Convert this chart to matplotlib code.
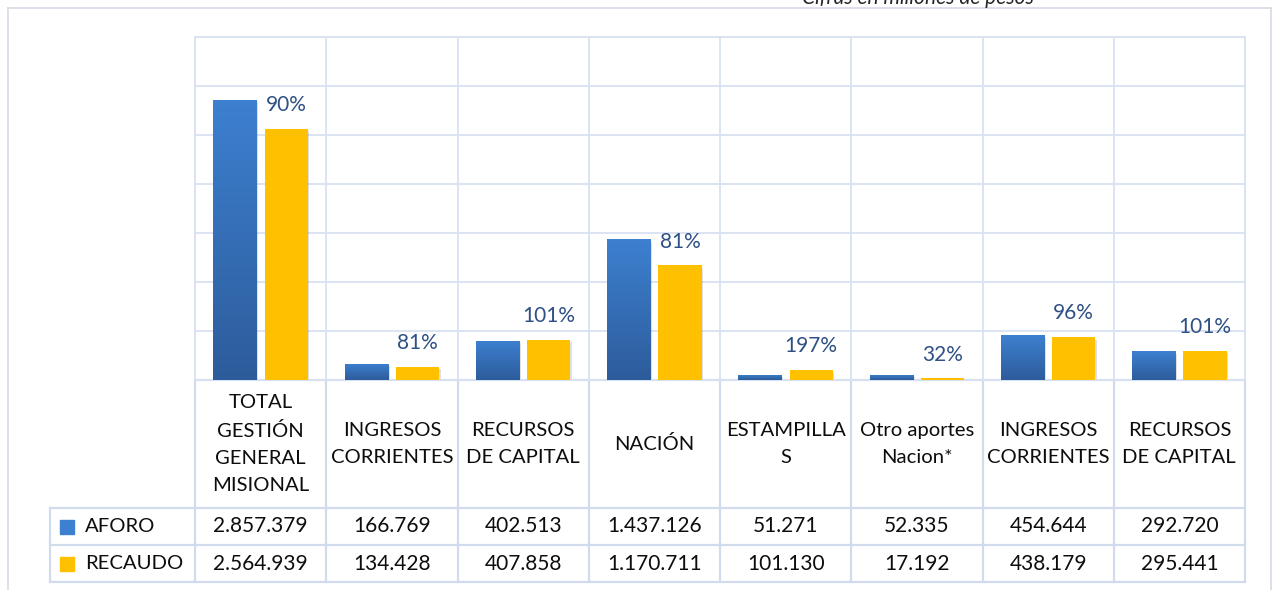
import numpy as np
import matplotlib
matplotlib.use("Agg")
import matplotlib.pyplot as plt
import matplotlib.transforms as mtransforms
from matplotlib.patches import Rectangle
from matplotlib.colors import LinearSegmentedColormap

# datos
categorias = ["TOTAL\nGESTIÓN\nGENERAL\nMISIONAL", "INGRESOS\nCORRIENTES", "RECURSOS\nDE CAPITAL",
              "NACIÓN", "ESTAMPILLA\nS", "Otro aportes\nNacion*", "INGRESOS\nCORRIENTES",
              "RECURSOS\nDE CAPITAL"]
aforo = [2857379, 166769, 402513, 1437126, 51271, 52335, 454644, 292720]
recaudo = [2564939, 134428, 407858, 1170711, 101130, 17192, 438179, 295441]
porcentajes = ["90%", "81%", "101%", "81%", "197%", "32%", "96%", "101%"]
series = ["AFORO", "RECAUDO"]
titulo = "Cifras en millones de pesos"

W, H = 1279, 590
FONT = "Lato"
FS = 14.6
grid_c = "#D9E2F3"
line_c = "#D0DBEE"
azul_top, azul_bot = "#3D80D0", "#2D5C9B"
amarillo = "#FFC000"

plt.rcParams["font.family"] = [FONT, "DejaVu Sans"]

def rect(x0, y0, x1, y1):
    return [x0 / W, 1 - y1 / H, (x1 - x0) / W, (y1 - y0) / H]

fig = plt.figure(figsize=(W / 100, H / 100), dpi=100)

# capa de fondo en pixeles
ov = fig.add_axes([0, 0, 1, 1], zorder=0)
ov.set_xlim(0, W)
ov.set_ylim(H, 0)
ov.axis("off")

ax = fig.add_axes(rect(195, 37, 1245, 380), zorder=1)
ax.patch.set_alpha(0)
n = len(categorias)
x = np.arange(n)
w = 0.33
off = 0.195

ax.set_xlim(-0.5, n - 0.5)
ax.set_ylim(0, 3500000)
ax.set_yticks(np.arange(0, 3500001, 500000))
ax.set_xticks(np.arange(-0.5, n, 1.0))
ax.grid(True, color=grid_c, linewidth=1.3)
ax.tick_params(length=0, labelbottom=False, labelleft=False)
for s in ax.spines.values():
    s.set_color(grid_c)
    s.set_linewidth(1.3)
ax.set_axisbelow(True)

# sombras
for xi, a, r in zip(x, aforo, recaudo):
    for xx, v in ((xi - off, a), (xi + off, r)):
        ax.bar(xx + 0.012, v, w, bottom=-25000, color="#000000", alpha=0.12, zorder=2, linewidth=0)

grad = LinearSegmentedColormap.from_list("azul", [azul_bot, azul_top])
bars_a = ax.bar(x - off, aforo, w, color=azul_top, zorder=3, linewidth=0)
bars_r = ax.bar(x + off, recaudo, w, color=amarillo, zorder=3, linewidth=0)
g = np.linspace(0, 1, 256).reshape(-1, 1)
for b in bars_a:
    x0, y0 = b.get_x(), b.get_y()
    im = ax.imshow(g, cmap=grad, origin="lower", aspect="auto", zorder=3.5,
                   extent=[x0, x0 + b.get_width(), y0, y0 + b.get_height()])
    im.set_clip_path(b)
ax.set_xlim(-0.5, n - 0.5)
ax.set_ylim(0, 3500000)

for xi, r, p in zip(x, recaudo, porcentajes):
    ax.annotate(p, (xi + off, r), xytext=(0, 17), textcoords="offset points",
                ha="center", va="center", fontsize=15, color="#2F5085", zorder=5)

# tabla de datos
bt = mtransforms.blended_transform_factory(ax.transData, ov.transData)
y_top, y_lab, y_r1, y_r2 = 380, 508, 545, 582
for b in np.arange(-0.5, n, 1.0):
    ov.plot([b, b], [y_top, y_r2], transform=bt, color=line_c, lw=1.6)
ov.plot([-0.5, n - 0.5], [y_top, y_top], transform=bt, color=line_c, lw=1.6)
for yy in (y_lab, y_r1, y_r2):
    ov.plot([50, 1245], [yy, yy], color=line_c, lw=1.6)
ov.plot([50, 50], [y_lab, y_r2], color=line_c, lw=1.6)

for xi, c in zip(x, categorias):
    ov.text(xi, (y_top + y_lab) / 2, c, transform=bt, ha="center", va="center",
            fontsize=FS, color="#0D0D0D", linespacing=1.7)

filas = [(aforo, (y_lab + y_r1) / 2), (recaudo, (y_r1 + y_r2) / 2)]
for (vals, yc) in filas:
    for xi, v in zip(x, vals):
        ov.text(xi, yc, f"{v:,}".replace(",", "."), transform=bt, ha="center", va="center",
                fontsize=15, color="#0D0D0D")

# leyenda en la tabla
for (nombre, col, (_, yc)) in zip(series, [azul_top, amarillo], filas):
    ov.add_patch(Rectangle((60, yc - 7), 14, 14, color=col))
    ov.text(85, yc, nombre, ha="left", va="center", fontsize=FS, color="#0D0D0D")

# marco exterior
ov.plot([8, 1271], [8, 8], color="#D6DCE5", lw=1.2)
ov.plot([7.5, 7.5], [8, H], color="#D6DCE5", lw=1.2)
ov.plot([1271, 1271], [8, H], color="#D6DCE5", lw=1.2)

ov.text(918, 4, titulo, ha="center", va="baseline", fontsize=15, style="italic", color="#262626")

fig.savefig("out.png", dpi=100)
